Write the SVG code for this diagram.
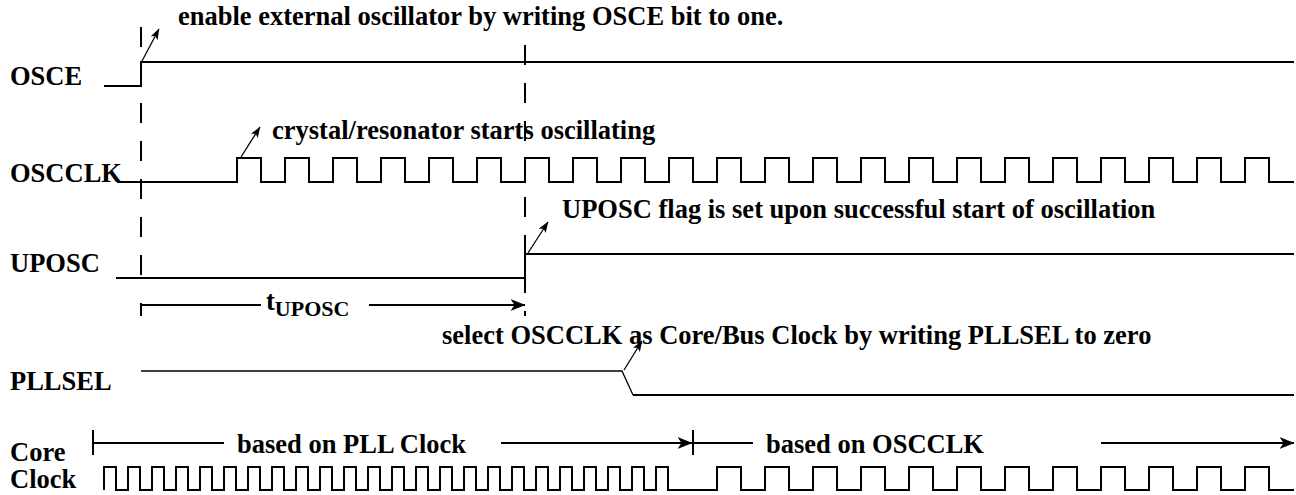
<svg xmlns="http://www.w3.org/2000/svg" width="1296" height="495" viewBox="0 0 1296 495">
<style>
text{font-family:"Liberation Serif","Times New Roman",serif;font-weight:bold;font-size:26.5px;fill:#000}
.sig{fill:none;stroke:#000;stroke-width:2}
.thin{fill:none;stroke:#000;stroke-width:1.3}
.dash{fill:none;stroke:#000;stroke-width:2;stroke-dasharray:20 18}
.ann{fill:none;stroke:#000;stroke-width:1.3;marker-end:url(#sa)}
.dim{fill:none;stroke:#000;stroke-width:2;marker-end:url(#ba)}
.sub{font-size:22px}
</style>
<defs>
<marker id="sa" markerUnits="userSpaceOnUse" viewBox="0 0 11 8" refX="10.5" refY="4" markerWidth="11" markerHeight="8" orient="auto"><path d="M0,0 L11,4 L0,8 L2.5,4 z" fill="#000"/></marker>
<marker id="ba" markerUnits="userSpaceOnUse" viewBox="0 0 15 12" refX="14.5" refY="6" markerWidth="15" markerHeight="12" orient="auto"><path d="M0,0 L15,6 L0,12 L4,6 z" fill="#000"/></marker>
</defs>
<rect width="1296" height="495" fill="#fff"/>
<g id="guides">
<path class="dash" d="M141,27 V290"/>
<path class="dash" d="M525,45 V316"/>
</g>
<g id="osce">
<text x="10" y="85">OSCE</text>
<path class="sig" d="M104,86 H141 V62 H1294"/>
<text x="178" y="25">enable external oscillator by writing OSCE bit to one.</text>
</g>
<g id="oscclk">
<text x="10" y="182">OSCCLK</text>
<path class="sig" d="M117,182 H237 V158 H261 V182 H285 V158 H309 V182 H333 V158 H357 V182 H381 V158 H405 V182 H429 V158 H453 V182 H477 V158 H501 V182 H525 V158 H549 V182 H573 V158 H597 V182 H621 V158 H645 V182 H669 V158 H693 V182 H717 V158 H741 V182 H765 V158 H789 V182 H813 V158 H837 V182 H861 V158 H885 V182 H909 V158 H933 V182 H957 V158 H981 V182 H1005 V158 H1029 V182 H1053 V158 H1077 V182 H1101 V158 H1125 V182 H1149 V158 H1173 V182 H1197 V158 H1221 V182 H1245 V158 H1269 V182 H1294"/>
<text x="272" y="139">crystal/resonator starts oscillating</text>
</g>
<g id="uposc">
<text x="10" y="272">UPOSC</text>
<path class="sig" d="M116,278 H525 V254 H1294"/>
<text x="562" y="218">UPOSC flag is set upon successful start of oscillation</text>
</g>
<g id="tuposc">
<path class="sig" d="M141,303 V316"/>
<text x="266" y="310">t<tspan class="sub" dy="6">UPOSC</tspan></text>
</g>
<g id="pllsel">
<text x="10" y="390">PLLSEL</text>
<path class="thin" d="M141,371 H622 L633,395"/>
<path class="sig" d="M633,395 H1294"/>
<text x="442" y="344">select OSCCLK as Core/Bus Clock by writing PLLSEL to zero</text>
</g>
<g id="coreclock">
<text x="10" y="461">Core</text>
<text x="10" y="488">Clock</text>
<path class="sig" d="M104,490 V467 H116 V490 H128 V467 H140 V490 H152 V467 H164 V490 H176 V467 H188 V490 H200 V467 H212 V490 H224 V467 H236 V490 H248 V467 H260 V490 H272 V467 H284 V490 H296 V467 H308 V490 H320 V467 H332 V490 H344 V467 H356 V490 H368 V467 H380 V490 H392 V467 H404 V490 H416 V467 H428 V490 H440 V467 H452 V490 H464 V467 H476 V490 H488 V467 H500 V490 H512 V467 H524 V490 H536 V467 H548 V490 H560 V467 H572 V490 H584 V467 H596 V490 H608 V467 H620 V490 H632 V467 H644 V490 H656 V467 H668 V490 H717 V467 H741 V490 H765 V467 H789 V490 H813 V467 H837 V490 H861 V467 H885 V490 H909 V467 H933 V490 H957 V467 H981 V490 H1005 V467 H1029 V490 H1053 V467 H1077 V490 H1101 V467 H1125 V490 H1149 V467 H1173 V490 H1197 V467 H1221 V490 H1245 V467 H1269 V490 H1294"/>
<path class="sig" d="M93,430 V455 M693,430 V455"/>
<text x="237" y="453">based on PLL Clock</text>
<text x="766" y="453">based on OSCCLK</text>
</g>
<g id="connectors">
<path class="ann" d="M142,61 L159,29"/>
<path class="ann" d="M241,157 L260,127"/>
<path class="ann" d="M528,253 L548,222"/>
<path class="ann" d="M624,370 L642,341"/>
<path class="sig" d="M141,305 H261"/>
<path class="dim" d="M369,305 H525"/>
<path class="sig" d="M93,443 H224"/>
<path class="dim" d="M501,443 H692"/>
<path class="sig" d="M693,443 H753"/>
<path class="dim" d="M1101,443 H1294"/>
</g>
</svg>
